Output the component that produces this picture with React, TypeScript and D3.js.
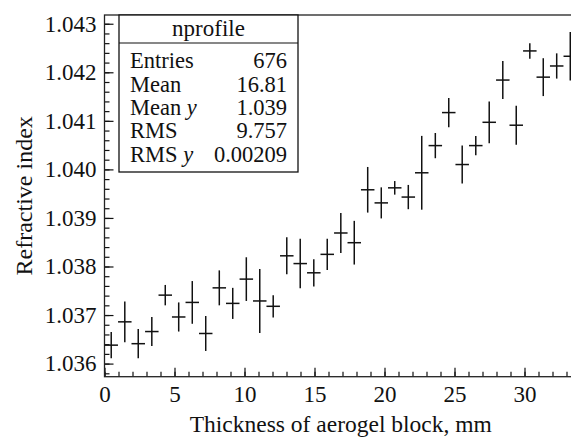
import { useEffect, useRef } from 'react';
import * as d3 from 'd3';

// bin centers (mm), profile means and errors
const binCenters = [
  0.48, 1.45, 2.41, 3.38, 4.34, 5.30, 6.27, 7.23, 8.20, 9.16, 10.13, 11.09,
  12.05, 13.02, 13.98, 14.95, 15.91, 16.88, 17.84, 18.80, 19.77, 20.73, 21.70,
  22.66, 23.63, 24.59, 25.55, 26.52, 27.48, 28.45, 29.41, 30.38, 31.34, 32.30, 33.27,
];
const meanIndex = [
  1.03638, 1.03686, 1.03641, 1.03666, 1.03741, 1.03696, 1.03726, 1.03662,
  1.03756, 1.03724, 1.03774, 1.03729, 1.03718, 1.03822, 1.03806, 1.03787,
  1.03825, 1.03869, 1.03849, 1.03958, 1.03931, 1.03962, 1.03943, 1.03993,
  1.04049, 1.04117, 1.04010, 1.04049, 1.04097, 1.04184, 1.04091, 1.04244,
  1.04190, 1.04213, 1.04233,
];
const errIndex = [
  0.00027, 0.00042, 0.00030, 0.00030, 0.00021, 0.00030, 0.00044, 0.00036,
  0.00036, 0.00032, 0.00045, 0.00066, 0.00023, 0.00038, 0.00051, 0.00028,
  0.00032, 0.00041, 0.00045, 0.00047, 0.00032, 0.00014, 0.00025, 0.00076,
  0.00026, 0.00030, 0.00039, 0.00020, 0.00043, 0.00039, 0.00040, 0.00016,
  0.00039, 0.00026, 0.00050,
];
const binWidth = 0.964;

const xMajorTicks = [0, 5, 10, 15, 20, 25, 30];
const yMajorTicks = [1.036, 1.037, 1.038, 1.039, 1.04, 1.041, 1.042, 1.043];

const statTitle = 'nprofile';
const statLabels = ['Entries', 'Mean', 'Mean y', 'RMS', 'RMS y'];
const statValues = ['676', '16.81', '1.039', '9.757', '0.00209'];

const FONT = "'Liberation Serif', 'Times New Roman', Times, 'DejaVu Serif', serif";

export default function App() {
  const svgRef = useRef<SVGSVGElement>(null);

  useEffect(() => {
    if (!svgRef.current) return;
    const svg = d3.select(svgRef.current);
    svg.selectAll('*').remove();

    const width = 571;
    const height = 437;
    const left = 104.5, right = 577, top = 15, bottom = 376.7;

    const x = d3.scaleLinear().domain([0, 33.75]).range([left, right]);
    const y = d3.scaleLinear().domain([1.03573, 1.04318]).range([bottom, top]);

    svg.append('rect')
      .attr('width', width).attr('height', height).attr('fill', 'white');

    // minor ticks
    const xMinor = d3.range(0, 34, 1);
    const yMinor = d3.range(1.0358, 1.0432, 0.0002);

    svg.append('g')
      .attr('transform', `translate(0,${bottom})`)
      .call(d3.axisBottom(x).tickValues(xMinor).tickSize(-5).tickSizeOuter(0).tickFormat(() => ''))
      .call(g => g.select('.domain').remove());

    svg.append('g')
      .attr('transform', `translate(${left},0)`)
      .call(d3.axisLeft(y).tickValues(yMinor).tickSize(-5).tickSizeOuter(0).tickFormat(() => ''))
      .call(g => g.select('.domain').remove());

    // major ticks + labels
    const xAxis = svg.append('g')
      .attr('transform', `translate(0,${bottom})`)
      .call(d3.axisBottom(x).tickValues(xMajorTicks).tickSize(-9).tickSizeOuter(0).tickPadding(9).tickFormat(d3.format('d')));
    xAxis.select('.domain').remove();
    xAxis.attr('font-family', null).style('font-family', FONT).attr('font-size', 23);
    xAxis.selectAll('text').attr('fill', '#111');

    const yAxis = svg.append('g')
      .attr('transform', `translate(${left},0)`)
      .call(d3.axisLeft(y).tickValues(yMajorTicks).tickSize(-9).tickSizeOuter(0).tickPadding(8).tickFormat(d3.format('.3f')));
    yAxis.select('.domain').remove();
    yAxis.attr('font-family', null).style('font-family', FONT).attr('font-size', 23);
    yAxis.selectAll('text').attr('fill', '#111');

    svg.selectAll('.tick line').attr('stroke', '#111').attr('stroke-width', 1.2);

    // frame
    svg.append('rect')
      .attr('x', left).attr('y', top)
      .attr('width', right - left).attr('height', bottom - top)
      .attr('fill', 'none').attr('stroke', '#222').attr('stroke-width', 1.3);

    // profile points: horizontal bin bar + vertical error bar
    const pts = svg.append('g').attr('stroke', '#111').attr('stroke-width', 1.5);
    binCenters.forEach((c, i) => {
      pts.append('line')
        .attr('x1', x(c - binWidth / 2)).attr('x2', x(c + binWidth / 2))
        .attr('y1', y(meanIndex[i])).attr('y2', y(meanIndex[i]));
      pts.append('line')
        .attr('x1', x(c)).attr('x2', x(c))
        .attr('y1', y(meanIndex[i] - errIndex[i])).attr('y2', y(meanIndex[i] + errIndex[i]));
    });

    // axis titles
    svg.append('text')
      .attr('x', (left + right) / 2).attr('y', 432)
      .attr('text-anchor', 'middle')
      .style('font-family', FONT).attr('font-size', 23.5).attr('fill', '#111')
      .text('Thickness of aerogel block, mm');

    svg.append('text')
      .attr('transform', `translate(32,${(top + bottom) / 2}) rotate(-90)`)
      .attr('text-anchor', 'middle')
      .style('font-family', FONT).attr('font-size', 24).attr('fill', '#111')
      .text('Refractive index');

    // stats box
    const bx = 119, by = 15, bw = 179, bh = 157;
    const box = svg.append('g').style('font-family', FONT).attr('fill', '#111');
    box.append('rect')
      .attr('x', bx).attr('y', by).attr('width', bw).attr('height', bh)
      .attr('fill', 'white').attr('stroke', '#111').attr('stroke-width', 1.3);
    box.append('line')
      .attr('x1', bx).attr('x2', bx + bw).attr('y1', 43).attr('y2', 43)
      .attr('stroke', '#111').attr('stroke-width', 1.2);
    box.append('text')
      .attr('x', bx + bw / 2).attr('y', 36)
      .attr('text-anchor', 'middle').attr('font-size', 23)
      .text(statTitle);

    statLabels.forEach((label, i) => {
      const yy = 68.3 + i * 23.35;
      const t = box.append('text').attr('x', 130).attr('y', yy).attr('font-size', 22.5);
      const parts = label.split(' ');
      t.append('tspan').text(parts[0]);
      if (parts[1]) {
        t.append('tspan').attr('font-style', 'italic').text(' ' + parts[1]);
      }
      box.append('text')
        .attr('x', 287).attr('y', yy)
        .attr('text-anchor', 'end').attr('font-size', 22.5)
        .text(statValues[i]);
    });
  }, []);

  return (
    <svg
      ref={svgRef}
      width={571}
      height={437}
      style={{ position: 'absolute', left: 0, top: 0, display: 'block' }}
    />
  );
}
